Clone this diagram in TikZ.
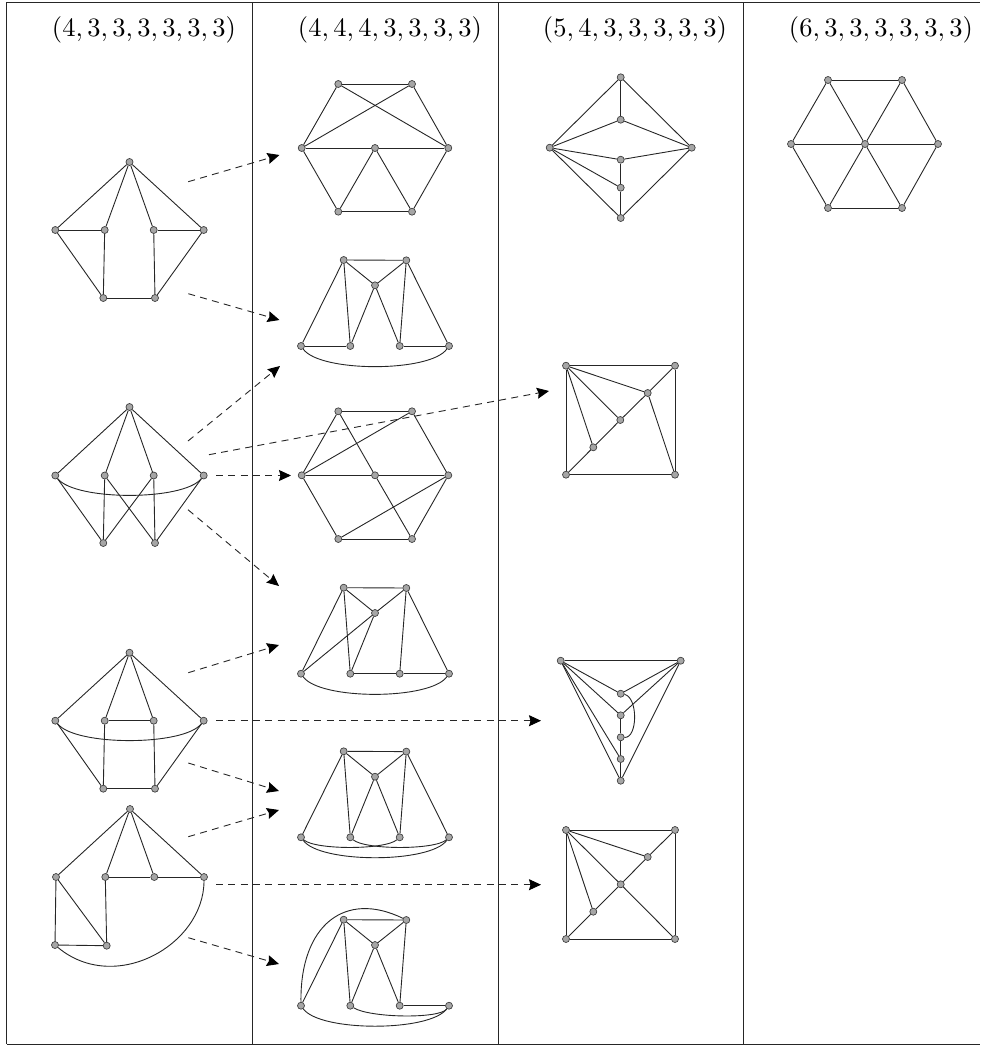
\documentclass[tikz,border=0pt]{standalone}
\usepackage{tikz}
\usetikzlibrary{arrows.meta}
\tikzset{
	vtx/.style={circle,draw=black!75,fill=black!35,line width=.7pt,inner sep=0pt,minimum size=7pt},
	edge/.style={draw=black!85,line width=.9pt},
	frameline/.style={draw=black!85,line width=1pt},
	darrow/.style={draw=black!85,line width=.9pt,dash pattern=on 7pt off 5.3pt,-{Stealth[length=12pt,width=11pt,inset=1.5pt,black]}},
	title/.style={scale=2.65,inner sep=0pt}
}
\begin{document}
\begin{tikzpicture}[x=1pt,y=-1pt]
	\useasboundingbox (0,0) rectangle (980,1046);
	\draw[frameline] (6.5,2.5) -- (980,2.5);
	\draw[frameline] (6.5,1044) -- (980,1044);
	\foreach \x in {6.5,252.5,498,743}
	\draw[frameline] (\x,2.5) -- (\x,1044);
	\node[title] (t1) at (144,30) {$(4,3,3,3,3,3,3)$};
	\node[title] (t2) at (390,30) {$(4,4,4,3,3,3,3)$};
	\node[title] (t3) at (635,30) {$(5,4,3,3,3,3,3)$};
	\node[title] (t4) at (881,30) {$(6,3,3,3,3,3,3)$};
	\foreach \n/\x/\y in {
		ga1/129.5/162,ga2/55.3/230,ga3/104.7/230,ga4/153.7/230,ga5/203.7/230,ga6/103.3/298,ga7/155/298,
		gb1/129.5/407,gb2/55.3/475.5,gb3/104.7/475.5,gb4/153.7/475.5,gb5/203.7/475.5,gb6/103.3/543,gb7/155/543,
		gc1/129.5/652.7,gc2/55.3/720.7,gc3/104.7/720.7,gc4/153.7/720.7,gc5/203.7/720.7,gc6/103.3/788.7,gc7/155/788.7,
		gd1/130/809,gd2/56/877,gd3/105.3/877,gd4/154.3/877,gd5/204/877,gd6/55/945,gd7/106.7/945.7,
		ha1/338.3/84,ha2/412/84,ha3/301.7/148,ha4/375/148,ha5/448.3/148,ha6/338.3/211.7,ha7/412/211.7,
		hb1/343.7/260,hb2/406.3/260.3,hb3/375/285.3,hb4/301/346,hb5/350.3/346,hb6/399.7/346,hb7/449/346,
		hc1/338.3/411.3,hc2/412/411.3,hc3/301.7/475.3,hc4/375/475.3,hc5/448.3/475.3,hc6/338.3/539,hc7/412/539,
		hd1/343.7/587.7,hd2/406.3/588,hd3/375/613,hd4/301/673.7,hd5/350.3/673.7,hd6/399.7/673.7,hd7/449/673.7,
		he1/343.7/751.3,he2/406.3/751.6,he3/375/776.7,he4/301/837.3,he5/350.3/837.3,he6/399.7/837.3,he7/449/837.3,
		hf1/343.7/919.7,hf2/406.3/920,hf3/375/945,hf4/301/1005.7,hf5/350.3/1005.7,hf6/399.7/1005.7,hf7/449/1005.7,
		ka1/620.7/77.3,ka2/620.7/119.7,ka3/549.7/147.7,ka4/691.7/147.7,ka5/620.7/159.7,ka6/620.7/187.7,ka7/620.7/218,
		kb1/566/365.7,kb2/675/365.7,kb3/566/474.7,kb4/675/474.7,kb5/647.7/393,kb6/620.3/420,kb7/593.3/447.3,
		kc1/560.7/660.7,kc2/680.7/660.7,kc3/620.7/693.7,kc4/620.7/715.3,kc5/620.7/737.3,kc6/620.7/759,kc7/620.7/780.7,
		kd1/566/830,kd2/675/830,kd3/566/939,kd4/675/939,kd5/647.7/857,kd6/620.7/884.3,kd7/593.3/911.7,
		la1/828/80,la2/902/80,la3/791/144,la4/865/144,la5/938/144,la6/828/208,la7/902/208}
	\node[vtx] (\n) at (\x,\y) {};
	\foreach \a/\b in {
		ga1/ga2,ga1/ga3,ga1/ga4,ga1/ga5,ga2/ga3,ga4/ga5,ga2/ga6,ga3/ga6,ga4/ga7,ga5/ga7,ga6/ga7,
		gb1/gb2,gb1/gb3,gb1/gb4,gb1/gb5,gb2/gb6,gb3/gb6,gb3/gb7,gb4/gb6,gb4/gb7,gb5/gb7,
		gc1/gc2,gc1/gc3,gc1/gc4,gc1/gc5,gc3/gc4,gc2/gc6,gc3/gc6,gc4/gc7,gc5/gc7,gc6/gc7,
		gd1/gd2,gd1/gd3,gd1/gd4,gd1/gd5,gd3/gd4,gd4/gd5,gd2/gd6,gd2/gd7,gd3/gd7,gd6/gd7,
		ha1/ha2,ha1/ha5,ha2/ha3,ha1/ha3,ha2/ha5,ha3/ha4,ha4/ha5,ha3/ha6,ha4/ha6,ha4/ha7,ha5/ha7,ha6/ha7,
		hb1/hb2,hb1/hb3,hb2/hb3,hb1/hb4,hb1/hb5,hb3/hb5,hb3/hb6,hb2/hb6,hb2/hb7,hb4/hb5,hb6/hb7,
		hc1/hc2,hc1/hc3,hc2/hc3,hc1/hc4,hc4/hc7,hc3/hc4,hc4/hc5,hc2/hc5,hc5/hc6,hc3/hc6,hc6/hc7,hc5/hc7,
		hd1/hd2,hd1/hd3,hd2/hd3,hd1/hd4,hd1/hd5,hd3/hd5,hd3/hd4,hd2/hd6,hd2/hd7,hd5/hd6,hd6/hd7,
		he1/he2,he1/he3,he2/he3,he1/he4,he1/he5,he3/he5,he3/he6,he2/he6,he2/he7,
		hf1/hf2,hf1/hf3,hf2/hf3,hf1/hf4,hf1/hf5,hf3/hf5,hf3/hf6,hf2/hf6,hf6/hf7,
		ka1/ka3,ka1/ka4,ka1/ka2,ka2/ka3,ka2/ka4,ka5/ka3,ka5/ka4,ka5/ka6,ka6/ka3,ka6/ka7,ka7/ka3,ka7/ka4,
		kb1/kb2,kb2/kb4,kb4/kb3,kb3/kb1,kb2/kb5,kb5/kb6,kb6/kb7,kb7/kb3,kb1/kb5,kb1/kb6,kb1/kb7,kb5/kb4,
		kc1/kc2,kc1/kc3,kc2/kc3,kc1/kc4,kc2/kc4,kc1/kc6,kc1/kc7,kc2/kc7,kc4/kc5,kc5/kc6,kc6/kc7,
		kd1/kd2,kd2/kd4,kd4/kd3,kd3/kd1,kd2/kd5,kd5/kd6,kd6/kd7,kd7/kd3,kd1/kd5,kd1/kd6,kd1/kd7,kd6/kd4,
		la1/la2,la2/la5,la5/la7,la7/la6,la6/la3,la3/la1,la4/la1,la4/la2,la4/la3,la4/la5,la4/la6,la4/la7}
	\draw[edge] (\a) -- (\b);
	\draw[edge] (gb2) .. controls (75,501) and (184,501) .. (gb5);
	\draw[edge] (gc2) .. controls (75,746.2) and (184,746.2) .. (gc5);
	\draw[edge] (gd5) .. controls (204,945) and (115,995) .. (gd6);
	\draw[edge] (hb4) .. controls (320,372.5) and (430,372.5) .. (hb7);
	\draw[edge] (hd4) .. controls (320,700.2) and (430,700.2) .. (hd7);
	\draw[edge] (he4) .. controls (320,863.5) and (430,863.5) .. (he7);
	\draw[edge] (he4) .. controls (315,850) and (385,850) .. (he6);
	\draw[edge] (he5) .. controls (365,850) and (435,850) .. (he7);
	\draw[edge] (hf4) .. controls (320,1032) and (430,1032) .. (hf7);
	\draw[edge] (hf5) .. controls (370,1018) and (440,1019) .. (hf7);
	\draw[edge] (hf4) .. controls (300,925) and (345,890) .. (hf2);
	\draw[edge] (kc3) .. controls (638,697) and (638,738) .. (kc5);
	\foreach \n/\xa/\ya/\xb/\yb in {
		a/188.3/181.7/279.5/155,
		b/188.3/293.7/279.5/320,
		c/188/441/280/366,
		d/209/454.7/549/391,
		e/216/475.5/291/475.5,
		f/188/509.7/279/586,
		g/188.3/672.7/279/645,
		h/216/720.7/541/720.7,
		i/188.3/763/279/791,
		j/188.3/836.7/279/810,
		k/216/884.7/541/884.7,
		l/188.3/937.7/279/964}{
		\coordinate (from\n) at (\xa,\ya);
		\coordinate (to\n) at (\xb,\yb);
		\draw[darrow] (from\n) -- (to\n);
	}
\end{tikzpicture}
\end{document}
